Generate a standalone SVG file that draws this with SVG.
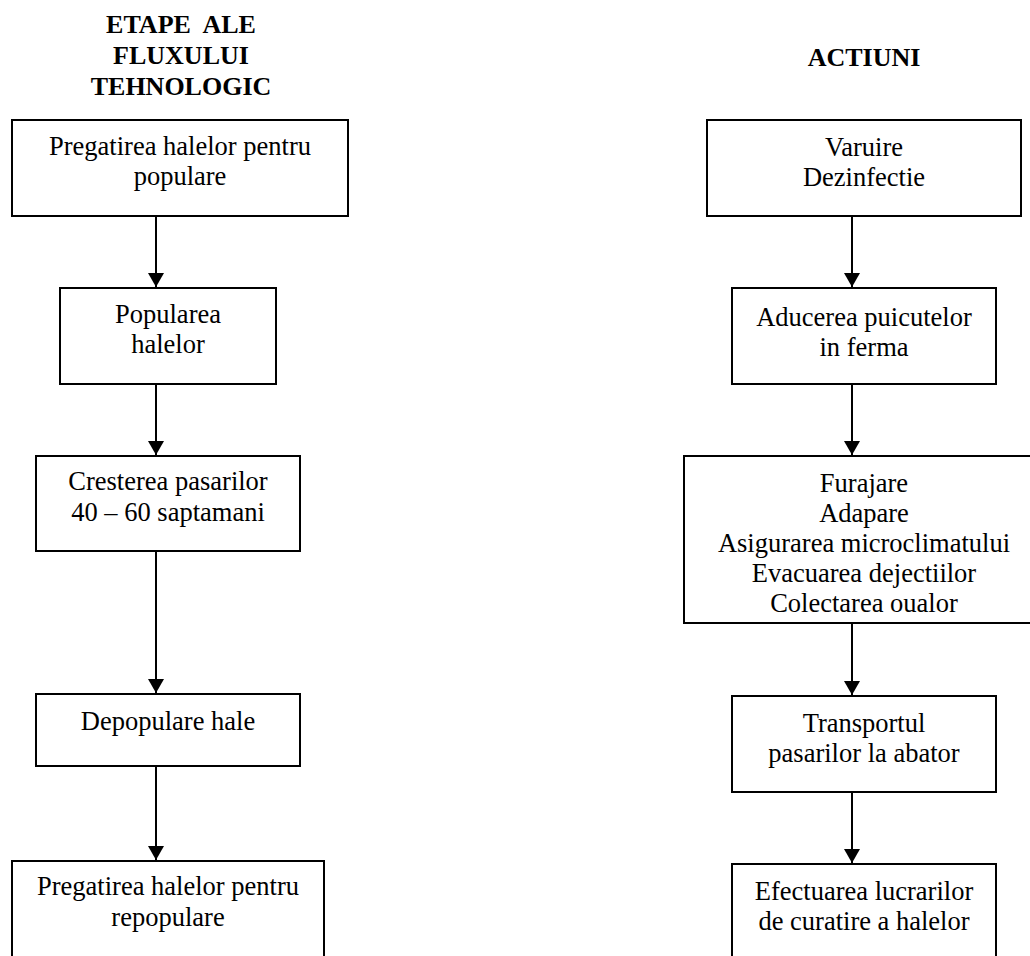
<svg xmlns="http://www.w3.org/2000/svg" width="1030" height="956" viewBox="0 0 1030 956">
<style>
  .box { fill: #ffffff; stroke: #000000; stroke-width: 2; }
  .t { font-family: 'Liberation Serif', Tinos, 'DejaVu Serif', serif; font-size: 26.5px; fill: #000000; text-anchor: middle; }
  .h { font-family: 'Liberation Serif', Tinos, 'DejaVu Serif', serif; font-size: 26px; font-weight: bold; fill: #000000; text-anchor: middle; }
  .c { stroke: #000000; stroke-width: 2; fill: none; marker-end: url(#arr); }
</style>
<defs>
  <marker id="arr" viewBox="0 0 14 16" refX="14" refY="8" markerWidth="14" markerHeight="16" markerUnits="userSpaceOnUse" orient="auto">
    <path d="M0,0 L14,8 L0,16 Z" fill="#000000"/>
  </marker>
</defs>
<rect width="1030" height="956" fill="#ffffff"/>

<g id="title-left">
  <text class="h" x="181" y="33" xml:space="preserve">ETAPE  ALE</text>
  <text class="h" x="181" y="64">FLUXULUI</text>
  <text class="h" x="181" y="95">TEHNOLOGIC</text>
</g>
<g id="title-right">
  <text class="h" x="864" y="66">ACTIUNI</text>
</g>

<g id="connectors">
  <line class="c" x1="156" y1="217" x2="156" y2="287"/>
  <line class="c" x1="156" y1="385" x2="156" y2="455"/>
  <line class="c" x1="156" y1="552" x2="156" y2="693"/>
  <line class="c" x1="156" y1="767" x2="156" y2="860"/>
  <line class="c" x1="852" y1="217" x2="852" y2="287"/>
  <line class="c" x1="852" y1="385" x2="852" y2="455"/>
  <line class="c" x1="852" y1="624" x2="852" y2="695"/>
  <line class="c" x1="852" y1="793" x2="852" y2="863"/>
</g>

<g id="L1">
  <rect class="box" x="12" y="120" width="336" height="96"/>
  <text class="t" x="180" y="155">Pregatirea halelor pentru</text>
  <text class="t" x="180" y="185">populare</text>
</g>
<g id="L2">
  <rect class="box" x="60" y="288" width="216" height="96"/>
  <text class="t" x="168" y="323">Popularea</text>
  <text class="t" x="168" y="353">halelor</text>
</g>
<g id="L3">
  <rect class="box" x="36" y="456" width="264" height="95"/>
  <text class="t" x="168" y="490">Cresterea pasarilor</text>
  <text class="t" x="168" y="521">40 – 60 saptamani</text>
</g>
<g id="L4">
  <rect class="box" x="36" y="694" width="264" height="72"/>
  <text class="t" x="168" y="730">Depopulare hale</text>
</g>
<g id="L5">
  <rect class="box" x="12" y="861" width="312" height="120"/>
  <text class="t" x="168" y="895">Pregatirea halelor pentru</text>
  <text class="t" x="168" y="926">repopulare</text>
</g>

<g id="R1">
  <rect class="box" x="707" y="120" width="314" height="96"/>
  <text class="t" x="864" y="156">Varuire</text>
  <text class="t" x="864" y="186">Dezinfectie</text>
</g>
<g id="R2">
  <rect class="box" x="732" y="288" width="264" height="96"/>
  <text class="t" x="864" y="326">Aducerea puicutelor</text>
  <text class="t" x="864" y="356">in ferma</text>
</g>
<g id="R3">
  <rect class="box" x="684" y="456" width="360" height="167"/>
  <text class="t" x="864" y="492">Furajare</text>
  <text class="t" x="864" y="522">Adapare</text>
  <text class="t" x="864" y="552">Asigurarea microclimatului</text>
  <text class="t" x="864" y="582">Evacuarea dejectiilor</text>
  <text class="t" x="864" y="612">Colectarea oualor</text>
</g>
<g id="R4">
  <rect class="box" x="732" y="696" width="264" height="96"/>
  <text class="t" x="864" y="732">Transportul</text>
  <text class="t" x="864" y="762">pasarilor la abator</text>
</g>
<g id="R5">
  <rect class="box" x="732" y="864" width="264" height="120"/>
  <text class="t" x="864" y="900">Efectuarea lucrarilor</text>
  <text class="t" x="864" y="930">de curatire a halelor</text>
</g>
</svg>
